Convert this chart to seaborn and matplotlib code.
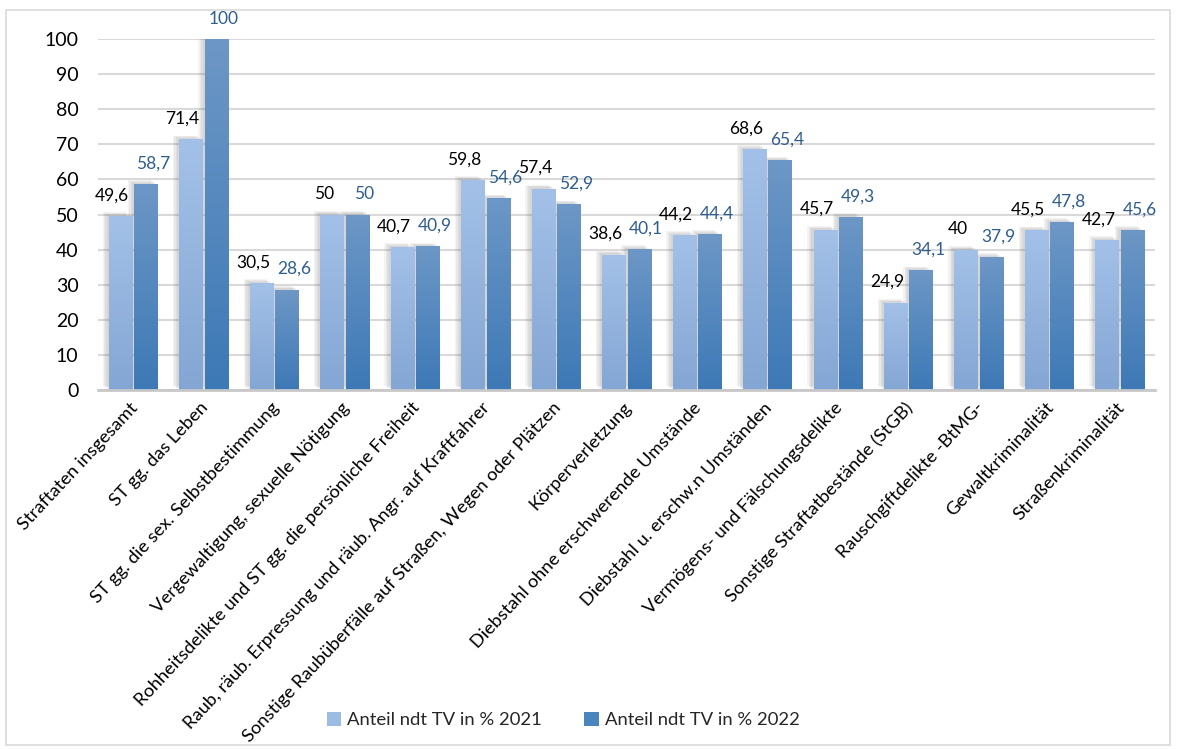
import numpy as np
import pandas as pd
import matplotlib
matplotlib.use("Agg")
import matplotlib.pyplot as plt
import matplotlib.patheffects as pe
import matplotlib.transforms as mtransforms
from matplotlib.colors import LinearSegmentedColormap
from matplotlib.patches import Rectangle, Patch
import seaborn as sns

categories = [
    "Straftaten insgesamt",
    "ST gg. das Leben",
    "ST gg. die sex. Selbstbestimmung",
    "Vergewaltigung, sexuelle Nötigung",
    "Rohheitsdelikte und ST gg. die persönliche Freiheit",
    "Raub, räub. Erpressung und räub. Angr. auf Kraftfahrer",
    "Sonstige Raubüberfälle auf Straßen, Wegen oder Plätzen",
    "Körperverletzung",
    "Diebstahl ohne erschwerende Umstände",
    "Diebstahl u. erschw.n Umständen",
    "Vermögens- und Fälschungsdelikte",
    "Sonstige Straftatbestände (StGB)",
    "Rauschgiftdelikte -BtMG-",
    "Gewaltkriminalität",
    "Straßenkriminalität",
]
values_2021 = [49.6, 71.4, 30.5, 50, 40.7, 59.8, 57.4, 38.6, 44.2, 68.6, 45.7, 24.9, 40, 45.5, 42.7]
values_2022 = [58.7, 100, 28.6, 50, 40.9, 54.6, 52.9, 40.1, 44.4, 65.4, 49.3, 34.1, 37.9, 47.8, 45.6]
series_names = ["Anteil ndt TV in % 2021", "Anteil ndt TV in % 2022"]
y_ticks = list(range(0, 101, 10))

df = pd.DataFrame({
    "Kategorie": categories * 2,
    "Wert": values_2021 + values_2022,
    "Serie": [series_names[0]] * len(categories) + [series_names[1]] * len(categories),
})

FONT = "Lato"
sns.set_theme(style="white")
plt.rcParams["font.family"] = [FONT, "DejaVu Sans"]

c21_top, c21_bot = "#a3c1e8", "#84a6d4"
c22_top, c22_bot = "#6d97c6", "#3d79b6"

fig = plt.figure(figsize=(11.77, 7.49), dpi=100)
ax = fig.add_axes([98 / 1177, 1 - 390 / 749, (1155 - 98) / 1177, (390 - 39) / 749])

sns.barplot(data=df, x="Kategorie", y="Wert", hue="Serie",
            palette=[c21_top, c22_top], width=0.72, gap=0.08,
            legend=False, ax=ax, saturation=1)

ax.set_ylim(0, 100)
ax.set_xlim(-0.5, len(categories) - 0.5)
ax.set_yticks(y_ticks)
ax.yaxis.grid(True, color="#d9d9d9", lw=1.5)
ax.set_axisbelow(True)
for s in ["top", "right", "left"]:
    ax.spines[s].set_visible(False)
ax.spines["bottom"].set_color("#c8c8c8")
ax.spines["bottom"].set_linewidth(2)
ax.tick_params(axis="y", length=0, pad=14, labelsize=14, labelcolor="#000000")
ax.tick_params(axis="x", length=0, pad=4)
ax.set_xlabel("")
ax.set_ylabel("")
ax.set_xticks(range(len(categories)))
ax.set_xticklabels(categories, rotation=47, ha="right", rotation_mode="anchor",
                   fontsize=13.2, color="#000000")
shift = mtransforms.ScaledTranslation(-4 / 100, -4 / 100, fig.dpi_scale_trans)
for lab in ax.get_xticklabels():
    lab.set_transform(lab.get_transform() + shift)

cmaps = [LinearSegmentedColormap.from_list("c21", [c21_bot, c21_top]),
         LinearSegmentedColormap.from_list("c22", [c22_bot, c22_top])]
grad = np.linspace(0, 1, 256).reshape(-1, 1)

shadow = [pe.SimplePatchShadow(offset=(-o, o * 0.6), shadow_rgbFace="#606060", alpha=0.07)
          for o in (4.5, 3.5, 2.5, 1.5)]

for ci, cont in enumerate(ax.containers):
    for bar in cont:
        bar.set_path_effects(shadow + [pe.Normal()])
        bar.set_edgecolor("none")
        x0, w, h = bar.get_x(), bar.get_width(), bar.get_height()
        im = ax.imshow(grad, extent=(x0, x0 + w, 0, h), origin="lower", aspect="auto",
                       cmap=cmaps[ci], zorder=bar.get_zorder() + 0.1, interpolation="bicubic")
        im.set_clip_path(bar)
        lab_color = "#000000" if ci == 0 else "#2e5d8e"
        dx = -6 if ci == 0 else 5
        txt = f"{h:g}".replace(".", ",")
        ax.annotate(txt, xy=(x0 + w / 2, h), xytext=(dx, 9), textcoords="offset points",
                    ha="center", va="bottom", fontsize=12.5, color=lab_color, zorder=5)

ax.set_ylim(0, 100)
ax.set_xlim(-0.5, len(categories) - 0.5)

handles = [Patch(facecolor="#9dbce4", edgecolor="none"), Patch(facecolor="#4a85c0", edgecolor="none")]
fig.legend(handles, series_names, loc="center", bbox_to_anchor=(563 / 1177, 1 - 720 / 749),
           ncol=2, frameon=False, fontsize=13.3, handlelength=0.8, handleheight=0.8,
           handletextpad=0.3, columnspacing=2.3)

fig.patches.append(Rectangle((6 / 1177, 4 / 749), 1164 / 1177, 735 / 749,
                             transform=fig.transFigure, fill=False, ec="#d9d9d9", lw=1.2))

fig.savefig("out.png", dpi=100)
